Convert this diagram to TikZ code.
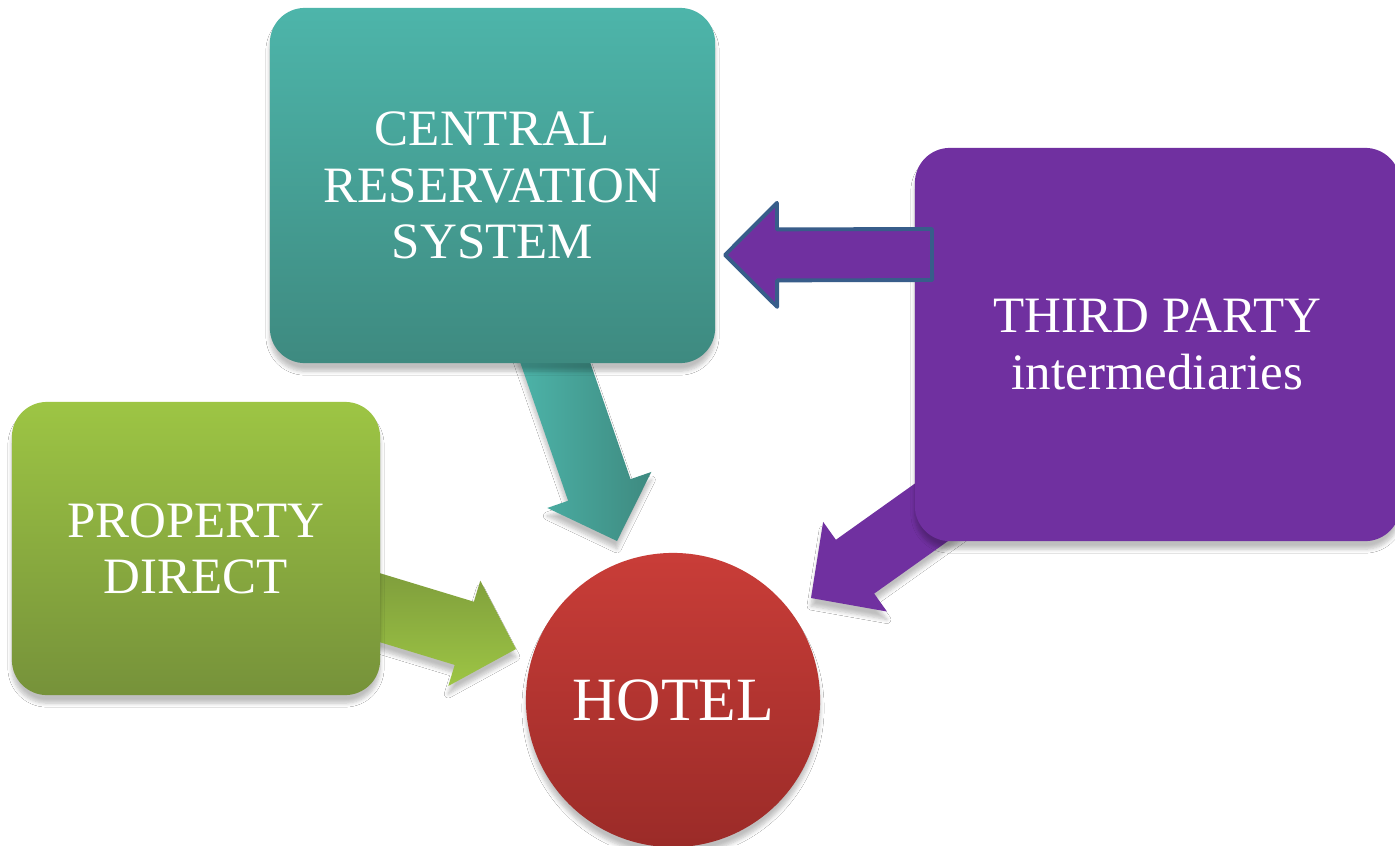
\documentclass[tikz,border=0pt]{standalone}
\usepackage{fontspec}
\setmainfont{Liberation Serif}
\usetikzlibrary{calc, positioning, shadows.blur}

\pgfdeclarelayer{back}
\pgfsetlayers{back,main}

\definecolor{tealtop}{HTML}{4DB5AA}
\definecolor{tealbot}{HTML}{3E8A80}
\definecolor{greentop}{HTML}{9DC544}
\definecolor{greenbot}{HTML}{76923A}
\definecolor{redtop}{HTML}{C93D38}
\definecolor{redbot}{HTML}{9B2B28}
\definecolor{purp}{HTML}{7030A0}
\definecolor{edgeblue}{HTML}{385D8A}

% block arrow: [options] tail, tip, shaft half width, head half width, head length
\newcommand{\blockarrow}[6][]{%
\coordinate (ba-base) at ($(#3)!#6!(#2)$);
\path[#1] ($(#2)!#4!90:(#3)$) -- ($(ba-base)!#4!90:(#3)$) -- ($(ba-base)!#5!90:(#3)$)
  -- (#3) -- ($(ba-base)!#5!-90:(#3)$) -- ($(ba-base)!#4!-90:(#3)$) -- ($(#2)!#4!-90:(#3)$) -- cycle;
}

\begin{document}
\begin{tikzpicture}[x = 0.01cm, y = -0.01cm,
  shd/.style = {blur shadow = {shadow xshift = 0pt, shadow yshift = -0.08cm, shadow blur radius = 0.04cm, shadow blur steps = 6, shadow opacity = 25}},
  blk/.style = {shd, rounded corners = 0.35cm, text = white, align = center, inner sep = 0pt, font = \fontsize{14.5}{16}\selectfont},
  crsarw/.style = {shd, left color = tealtop, right color = tealbot},
  dirarw/.style = {shd, top color = greenbot!85!greentop, bottom color = greentop},
  tparw/.style = {shd, fill = purp}]
\useasboundingbox (0,0) rectangle (1395,845);

\node[blk, top color = tealtop, bottom color = tealbot, minimum width = 4.45cm, minimum height = 3.55cm] (crs) at (492.5,185.5) {CENTRAL\\RESERVATION\\SYSTEM};
\node[blk, fill = purp, minimum width = 4.85cm, minimum height = 3.93cm] (third) at (1157.5,344.5) {THIRD PARTY\\intermediaries};
\node[blk, top color = greentop, bottom color = greenbot, minimum width = 3.68cm, minimum height = 2.93cm] (direct) at (196,548.5) {PROPERTY\\DIRECT};
\node[shd, circle, inner sep = 0pt, minimum size = 2.94cm, top color = redtop, bottom color = redbot, text = white, font = \fontsize{17.5}{20}\selectfont] (hotel) at (673,700) {HOTEL};

% arrow ends
\coordinate (crs-t) at (545,333);
\coordinate (crs-h) at (617,541);
\coordinate (dir-t) at (325,591);
\coordinate (dir-h) at (516,649);
\coordinate (tp-t) at (974,482);
\coordinate (tp-h) at (811,598);
\coordinate (tpc-t) at (932,254.5);
\coordinate (tpc-h) at (725,255);

\begin{pgfonlayer}{back}
\fill[white] (0,0) rectangle (1395,845);
\foreach \i/\j/\c in {crs-t/crs-h/crsarw, dir-t/dir-h/dirarw, tp-t/tp-h/tparw}{
\blockarrow[\c]{\i}{\j}{0.33cm}{0.55cm}{0.54cm}
}
\end{pgfonlayer}

\blockarrow[fill = purp, draw = edgeblue, line width = 1.1pt, line join = round]{tpc-t}{tpc-h}{0.255cm}{0.52cm}{0.52cm}
\end{tikzpicture}
\end{document}
